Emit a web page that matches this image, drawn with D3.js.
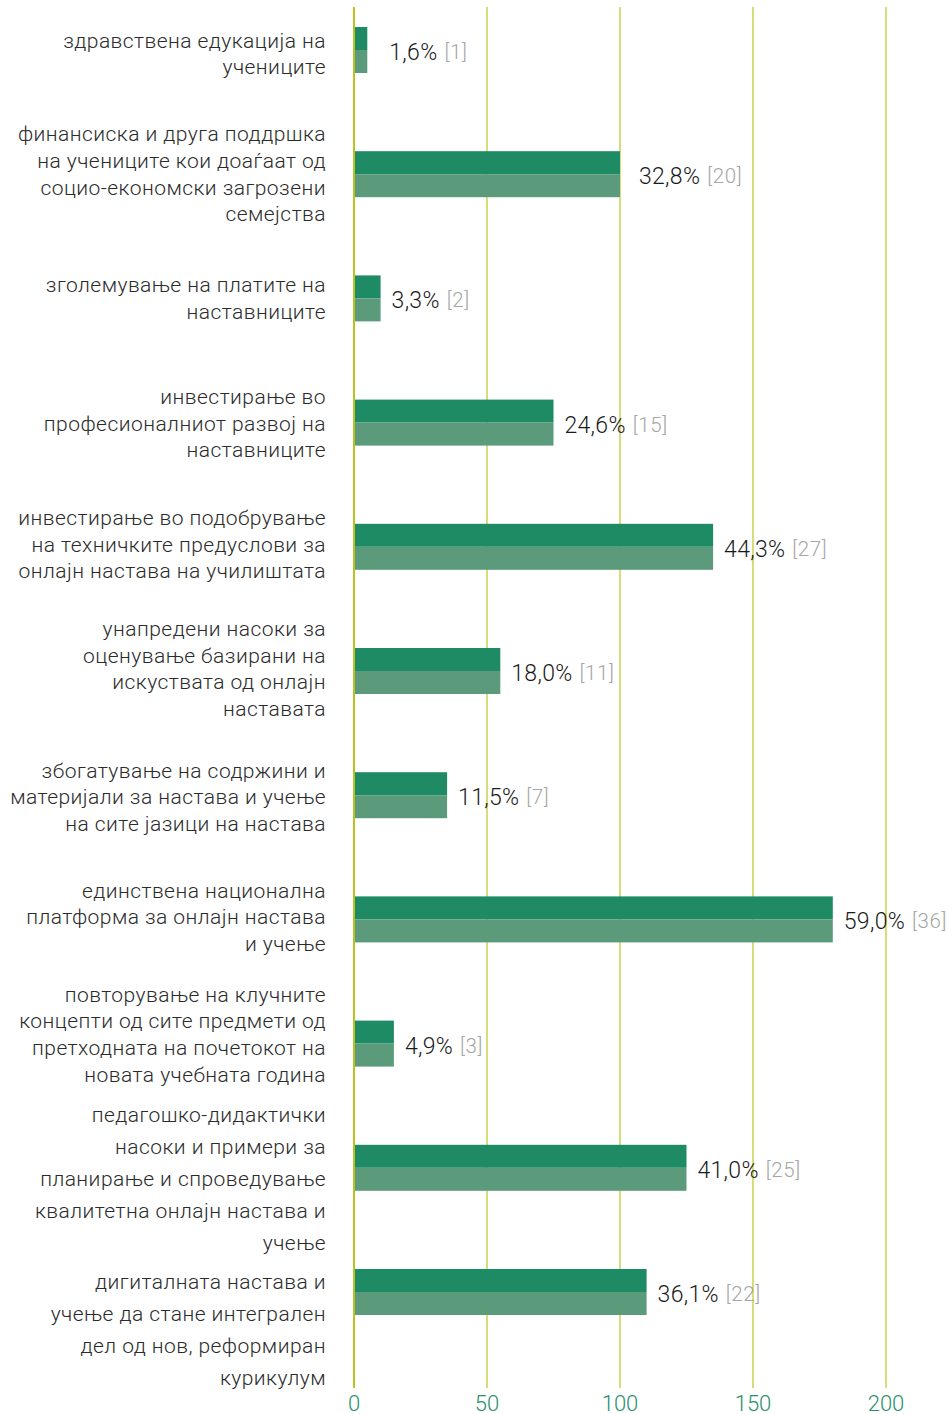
<!DOCTYPE html>
<html>
<head>
<meta charset="utf-8">
<script src="https://cdn.jsdelivr.net/npm/d3@7"></script>
<style>
  html, body { margin: 0; padding: 0; background: #fff; }
  svg { display: block; }
  text { font-family: Roboto, "Noto Sans", sans-serif; font-weight: 300; }
</style>
</head>
<body>
<svg id="chart" width="948" height="1414"></svg>
<script>
// Category labels, one entry per bar, already broken into lines
const categories = [
  ["здравствена едукација на", "учениците"],
  ["финансиска и друга поддршка", "на учениците кои доаѓаат од", "социо-економски загрозени", "семејства"],
  ["зголемување на платите на", "наставниците"],
  ["инвестирање во", "професионалниот развој на", "наставниците"],
  ["инвестирање во подобрување", "на техничките предуслови за", "онлајн настава на училиштата"],
  ["унапредени насоки за", "оценување базирани на", "искуствата од онлајн", "наставата"],
  ["збогатување на содржини и", "материјали за настава и учење", "на сите јазици на настава"],
  ["единствена национална", "платформа за онлајн настава", "и учење"],
  ["повторување на клучните", "концепти од сите предмети од", "претходната на почетокот на", "новата учебната година"],
  ["педагошко-дидактички", "насоки и примери за", "планирање и спроведување", "квалитетна онлајн настава и", "учење"],
  ["дигиталната настава и", "учење да стане интегрален", "дел од нов, реформиран", "курикулум"]
];

// Bar lengths on the 0–200 axis
const barValues = [5, 100, 10, 75, 135, 55, 35, 180, 15, 125, 110];

// Percentage shown next to each bar
const percentLabels = ["1,6%", "32,8%", "3,3%", "24,6%", "44,3%", "18,0%", "11,5%", "59,0%", "4,9%", "41,0%", "36,1%"];

// Number of responses shown in brackets
const counts = [1, 20, 2, 15, 27, 11, 7, 36, 3, 25, 22];

// Axis ticks
const tickValues = [0, 50, 100, 150, 200];

const svg = d3.select("#chart");

const x = d3.scaleLinear().domain([0, 200]).range([354, 886]);
const y = d3.scaleBand()
  .domain(d3.range(categories.length))
  .range([-12.1, 1354.1])
  .paddingInner(0.63)
  .paddingOuter(0.315);

const barH = 46;
const darkGreen = "#1e8b65";
const lightGreen = "#5b9b7c";
const gridColor = "#c9d24e";

// Vertical gridlines
svg.append("g")
  .selectAll("line")
  .data(tickValues)
  .join("line")
  .attr("x1", d => x(d)).attr("x2", d => x(d))
  .attr("y1", 7).attr("y2", 1388)
  .attr("stroke", d => d === 0 ? "#b9c21e" : gridColor)
  .attr("stroke-width", d => d === 0 ? 2 : 1.5);

// Bars: darker upper half, lighter lower half
const rows = svg.append("g")
  .selectAll("g")
  .data(barValues)
  .join("g")
  .attr("transform", (d, i) => `translate(0,${y(i) + y.bandwidth() / 2})`);

rows.append("rect")
  .attr("x", x(0) + 1)
  .attr("y", -barH / 2)
  .attr("width", d => x(d) - x(0) - 1)
  .attr("height", barH / 2)
  .attr("fill", darkGreen);

rows.append("rect")
  .attr("x", x(0) + 1)
  .attr("y", 0)
  .attr("width", d => x(d) - x(0) - 1)
  .attr("height", barH / 2)
  .attr("fill", lightGreen);

// Value labels: percentage plus bracketed count
const labelGap = [22, 19, 11, 11, 11, 11, 11, 11, 11, 11, 11];
const valueText = rows.append("text")
  .attr("x", (d, i) => x(d) + labelGap[i])
  .attr("y", 2)
  .attr("dominant-baseline", "central")
  .attr("font-size", 23)
  .attr("letter-spacing", 0.3)
  .attr("fill", "#1a1a1a");
valueText.append("tspan")
  .text((d, i) => percentLabels[i]);
valueText.append("tspan")
  .attr("dx", 7)
  .attr("font-size", 20.5)
  .attr("letter-spacing", 0.6)
  .attr("fill", "#a6a6a6")
  .text((d, i) => `[${counts[i]}]`);

// Category labels, right-aligned next to the axis
const lineHeights = categories.map((c, i) => i >= 9 ? 32 : 26.6);
const labelShift = [4, 0, 0, 1, -2, -2, 2, -2, -9, 11, 38];
svg.append("g")
  .selectAll("text")
  .data(categories)
  .join("text")
  .attr("text-anchor", "end")
  .attr("font-size", 21)
  .attr("letter-spacing", 0.45)
  .attr("fill", "#2b2b2b")
  .each(function(lines, i) {
    const lh = lineHeights[i];
    const cy = y(i) + y.bandwidth() / 2 + labelShift[i];
    const top = cy - (lines.length - 1) * lh / 2;
    d3.select(this).selectAll("tspan")
      .data(lines)
      .join("tspan")
      .attr("x", 326)
      .attr("y", (l, j) => top + j * lh)
      .attr("dominant-baseline", "central")
      .text(l => l);
  });

// Bottom axis tick labels
svg.append("g")
  .selectAll("text")
  .data(tickValues)
  .join("text")
  .attr("x", d => x(d))
  .attr("y", 1403)
  .attr("text-anchor", "middle")
  .attr("dominant-baseline", "central")
  .attr("font-size", 22)
  .attr("fill", "#2a8f6a")
  .text(d => d);
</script>
</body>
</html>
